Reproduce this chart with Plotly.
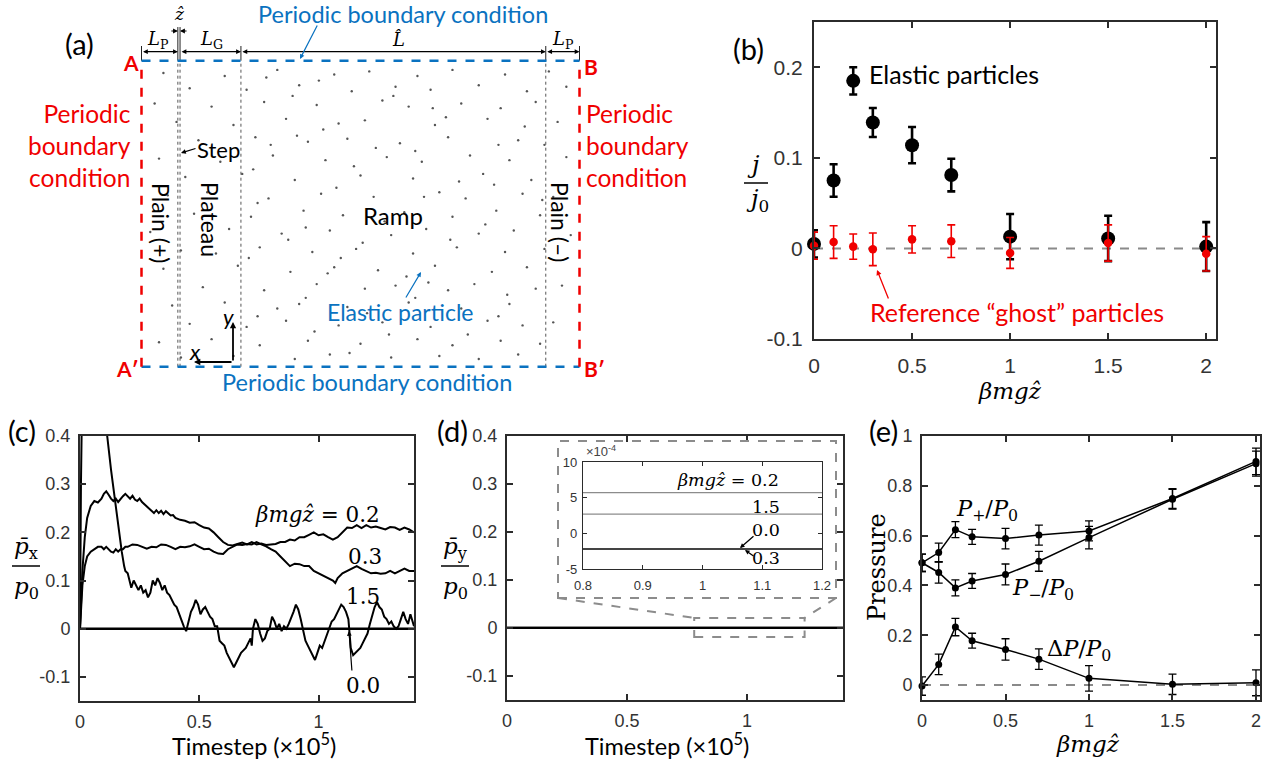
import plotly.graph_objects as go

W, H = 1275, 763

# ---------------- data ----------------
# (a) schematic: widths of the regions as fractions of the box width
seg_labels = ["L_P", "z", "L_G", "L_hat", "L_P"]
seg_widths = [0.083, 0.005, 0.139, 0.696, 0.077]
# particle positions (fractions of box width / height), read approximately
particles = [
    (0.05, 0.96), (0.19, 0.95), (0.31, 0.97), (0.44, 0.955), (0.52, 0.965), (0.63, 0.95), (0.71, 0.97), (0.83, 0.955), (0.93, 0.965),
    (0.11, 0.91), (0.24, 0.905), (0.36, 0.92), (0.48, 0.90), (0.58, 0.915), (0.66, 0.905), (0.77, 0.92), (0.88, 0.90), (0.97, 0.915),
    (0.03, 0.86), (0.16, 0.85), (0.28, 0.865), (0.40, 0.855), (0.55, 0.87), (0.61, 0.85), (0.73, 0.86), (0.82, 0.845), (0.90, 0.865),
    (0.08, 0.80), (0.21, 0.79), (0.33, 0.81), (0.45, 0.795), (0.51, 0.805), (0.67, 0.79), (0.79, 0.81), (0.95, 0.80),
    (0.13, 0.74), (0.26, 0.75), (0.38, 0.735), (0.47, 0.745), (0.59, 0.73), (0.70, 0.75), (0.86, 0.74), (0.92, 0.725),
    (0.04, 0.68), (0.18, 0.67), (0.30, 0.69), (0.42, 0.675), (0.56, 0.685), (0.64, 0.67), (0.75, 0.69), (0.84, 0.675), (0.97, 0.685),
    (0.10, 0.62), (0.23, 0.63), (0.35, 0.61), (0.50, 0.625), (0.62, 0.615), (0.78, 0.63), (0.89, 0.61),
    (0.06, 0.56), (0.15, 0.57), (0.29, 0.55), (0.41, 0.565), (0.53, 0.555), (0.68, 0.57), (0.74, 0.55), (0.87, 0.565), (0.94, 0.555),
    (0.12, 0.50), (0.25, 0.49), (0.37, 0.51), (0.46, 0.495), (0.60, 0.505), (0.71, 0.49), (0.81, 0.51), (0.91, 0.495),
    (0.02, 0.44), (0.20, 0.45), (0.32, 0.435), (0.43, 0.445), (0.57, 0.43), (0.65, 0.45), (0.77, 0.435), (0.85, 0.445), (0.98, 0.43),
    (0.09, 0.38), (0.17, 0.37), (0.27, 0.39), (0.39, 0.375), (0.49, 0.385), (0.62, 0.37), (0.72, 0.39), (0.83, 0.375), (0.92, 0.385),
    (0.05, 0.32), (0.22, 0.33), (0.34, 0.31), (0.44, 0.325), (0.54, 0.315), (0.67, 0.33), (0.80, 0.31), (0.88, 0.325),
    (0.14, 0.26), (0.28, 0.25), (0.40, 0.27), (0.51, 0.255), (0.58, 0.265), (0.70, 0.25), (0.76, 0.27), (0.90, 0.255), (0.96, 0.265),
    (0.07, 0.20), (0.19, 0.21), (0.31, 0.19), (0.36, 0.205), (0.47, 0.195), (0.61, 0.21), (0.73, 0.19), (0.84, 0.205),
    (0.11, 0.14), (0.24, 0.13), (0.33, 0.15), (0.45, 0.135), (0.55, 0.145), (0.66, 0.13), (0.79, 0.15), (0.87, 0.135), (0.94, 0.145),
    (0.04, 0.08), (0.16, 0.09), (0.27, 0.07), (0.38, 0.085), (0.50, 0.075), (0.63, 0.09), (0.71, 0.07), (0.82, 0.085), (0.91, 0.075),
    (0.09, 0.03), (0.21, 0.035), (0.35, 0.025), (0.43, 0.04), (0.57, 0.03), (0.68, 0.035), (0.77, 0.025), (0.86, 0.04),
    (0.345, 0.885), (0.415, 0.775), (0.625, 0.705), (0.805, 0.595), (0.265, 0.535), (0.555, 0.475), (0.705, 0.415),
    (0.455, 0.355), (0.605, 0.295), (0.245, 0.355), (0.835, 0.235), (0.515, 0.175), (0.395, 0.115), (0.745, 0.105),
    (0.665, 0.845), (0.875, 0.785), (0.485, 0.655), (0.295, 0.725), (0.915, 0.545), (0.375, 0.455), (0.645, 0.555),
    (0.285, 0.945), (0.405, 0.935), (0.575, 0.885), (0.695, 0.815), (0.355, 0.755), (0.535, 0.715), (0.815, 0.725),
    (0.255, 0.645), (0.445, 0.585), (0.725, 0.605), (0.335, 0.415), (0.505, 0.405), (0.785, 0.465), (0.425, 0.305),
    (0.625, 0.225), (0.265, 0.165), (0.565, 0.105), (0.815, 0.165), (0.475, 0.045), (0.655, 0.275), (0.375, 0.225),
]

# (b) particle current vs beta m g z
b_x = [0, 0.1, 0.2, 0.3, 0.5, 0.7, 1, 1.5, 2]
b_elastic = [0.005, 0.075, 0.185, 0.139, 0.114, 0.081, 0.013, 0.011, 0.002]
b_elastic_err = [0.015, 0.018, 0.015, 0.016, 0.020, 0.018, 0.025, 0.025, 0.027]
b_ghost = [0.003, 0.007, 0.002, -0.001, 0.010, 0.008, -0.005, 0.006, -0.006]
b_ghost_err = [0.015, 0.018, 0.014, 0.018, 0.015, 0.018, 0.017, 0.020, 0.019]
b_xticks = [0, 0.5, 1, 1.5, 2]
b_xticktext = ["0", "0.5", "1", "1.5", "2"]
b_yticks = [-0.1, 0, 0.1, 0.2]
b_yticktext = ["-0.1", "0", "0.1", "0.2"]

# (c) px/p0 vs timestep (x1e5)
c_t02 = [0, 0.01, 0.02, 0.03, 0.045, 0.06, 0.075, 0.09, 0.1, 0.11, 0.12, 0.13, 0.14, 0.15, 0.16, 0.17, 0.18, 0.19, 0.2,
         0.21, 0.22, 0.23, 0.24, 0.25, 0.26, 0.27, 0.28, 0.29, 0.3, 0.31, 0.32, 0.33, 0.34, 0.35, 0.36, 0.37, 0.38, 0.39, 0.4,
         0.42, 0.44, 0.46, 0.48, 0.5, 0.52, 0.54, 0.56, 0.58, 0.6, 0.62, 0.64, 0.66, 0.68, 0.7, 0.72, 0.74, 0.76, 0.78, 0.8,
         0.82, 0.84, 0.86, 0.88, 0.9, 0.92, 0.94, 0.96, 0.98, 1.0, 1.02, 1.04, 1.06, 1.08, 1.1, 1.12, 1.14, 1.16, 1.18, 1.2,
         1.22, 1.24, 1.26, 1.28, 1.3, 1.32, 1.34, 1.36, 1.38, 1.4]
c_p02 = [0, 0.12, 0.19, 0.23, 0.255, 0.265, 0.262, 0.27, 0.28, 0.285, 0.278, 0.27, 0.265, 0.27, 0.263, 0.27, 0.275, 0.28, 0.274,
         0.27, 0.276, 0.268, 0.265, 0.27, 0.263, 0.258, 0.255, 0.25, 0.245, 0.24, 0.246, 0.24, 0.245, 0.238, 0.244, 0.24, 0.235, 0.236, 0.23,
         0.226, 0.224, 0.22, 0.221, 0.215, 0.21, 0.208, 0.2, 0.19, 0.18, 0.174, 0.173, 0.176, 0.179, 0.175, 0.18, 0.175, 0.177, 0.174, 0.175,
         0.176, 0.18, 0.18, 0.185, 0.183, 0.19, 0.19, 0.195, 0.2, 0.194, 0.196, 0.19, 0.185, 0.19, 0.2, 0.21, 0.209, 0.215, 0.209, 0.215,
         0.21, 0.212, 0.209, 0.206, 0.211, 0.21, 0.205, 0.21, 0.206, 0.2]
c_t03 = [0, 0.01, 0.02, 0.03, 0.045, 0.06, 0.075, 0.09, 0.1, 0.11, 0.12, 0.13, 0.14, 0.15, 0.16, 0.17, 0.18, 0.19, 0.2,
         0.22, 0.24, 0.26, 0.28, 0.3, 0.32, 0.34, 0.36, 0.38, 0.4, 0.42, 0.44, 0.46, 0.48, 0.5, 0.52, 0.54, 0.56, 0.58, 0.6,
         0.62, 0.64, 0.66, 0.68, 0.7, 0.72, 0.74, 0.76, 0.78, 0.8, 0.82, 0.84, 0.86, 0.88, 0.9, 0.92, 0.94, 0.96, 0.98, 1.0,
         1.02, 1.04, 1.06, 1.07, 1.08, 1.1, 1.12, 1.14, 1.16, 1.18, 1.2, 1.22, 1.24, 1.26, 1.28, 1.3, 1.32, 1.34, 1.36, 1.38, 1.4]
c_p03 = [0, 0.09, 0.13, 0.15, 0.16, 0.165, 0.17, 0.17, 0.165, 0.17, 0.164, 0.16, 0.158, 0.165, 0.16, 0.165, 0.165, 0.17, 0.17,
         0.175, 0.174, 0.17, 0.166, 0.17, 0.169, 0.175, 0.174, 0.17, 0.165, 0.17, 0.169, 0.171, 0.175, 0.17, 0.165, 0.166, 0.16, 0.156, 0.155,
         0.165, 0.17, 0.175, 0.174, 0.176, 0.175, 0.18, 0.175, 0.171, 0.165, 0.16, 0.15, 0.14, 0.13, 0.135, 0.134, 0.13, 0.13, 0.12, 0.115,
         0.11, 0.105, 0.1, 0.095, 0.105, 0.115, 0.12, 0.125, 0.13, 0.124, 0.12, 0.115, 0.116, 0.114, 0.115, 0.12, 0.115, 0.12, 0.125, 0.12, 0.12]
c_t15 = [0, 0.004, 0.012, 0.06, 0.1, 0.114, 0.13, 0.146, 0.16, 0.175, 0.185, 0.19, 0.2, 0.21, 0.215, 0.225, 0.235, 0.245, 0.255,
         0.265, 0.275, 0.285, 0.295, 0.305, 0.315, 0.325, 0.335, 0.345, 0.355, 0.365, 0.375, 0.385, 0.395, 0.405, 0.415, 0.425,
         0.435, 0.445, 0.455, 0.465, 0.475, 0.485, 0.495, 0.505, 0.515, 0.525, 0.535, 0.545, 0.555, 0.565, 0.575, 0.585, 0.595,
         0.605, 0.615, 0.625, 0.635, 0.645, 0.655, 0.665, 0.675, 0.685, 0.695, 0.705, 0.715, 0.72, 0.725, 0.735, 0.745, 0.755,
         0.765, 0.775, 0.785, 0.795, 0.805, 0.815, 0.825, 0.835, 0.845, 0.855, 0.865, 0.875, 0.885, 0.895, 0.905, 0.915, 0.925,
         0.935, 0.945, 0.955, 0.965, 0.975, 0.985, 0.995, 1.005, 1.015, 1.025, 1.035, 1.045, 1.055, 1.065, 1.075, 1.085, 1.095,
         1.105, 1.115, 1.125, 1.13, 1.135, 1.145, 1.155, 1.165, 1.175, 1.185, 1.195, 1.205, 1.215, 1.225, 1.235, 1.245, 1.255,
         1.265, 1.275, 1.285, 1.295, 1.305, 1.315, 1.325, 1.335, 1.345, 1.355, 1.365, 1.375, 1.385, 1.395, 1.4]
c_p15 = [0, 0.3, 0.6, 0.8, 0.5, 0.4, 0.33, 0.27, 0.21, 0.16, 0.13, 0.12, 0.115, 0.095, 0.085, 0.1, 0.09, 0.08, 0.09,
         0.075, 0.08, 0.065, 0.075, 0.1, 0.09, 0.105, 0.095, 0.08, 0.09, 0.075, 0.07, 0.06, 0.05, 0.045, 0.03, 0.02,
         0.005, -0.005, 0.015, 0.035, 0.045, 0.06, 0.05, 0.03, 0.04, 0.045, 0.035, 0.025, 0.02, 0.005, 0.005, -0.025, -0.03,
         -0.035, -0.05, -0.06, -0.07, -0.08, -0.07, -0.06, -0.05, -0.045, -0.04, -0.03, -0.02, -0.035, 0.0, 0.02, 0.01, -0.01,
         -0.025, -0.02, -0.005, 0.0, 0.025, 0.015, 0.0, 0.01, -0.005, 0.005, 0.0, 0.01, 0.025, 0.035, 0.05, 0.04, 0.02,
         -0.005, -0.025, -0.035, -0.045, -0.055, -0.065, -0.05, -0.035, -0.04, -0.025, -0.01, 0.005, 0.015, 0.02, 0.03, 0.04, 0.05,
         0.045, 0.035, 0.02, -0.01, -0.04, -0.055, -0.05, -0.045, -0.04, -0.03, -0.02, -0.01, 0.01, 0.03, 0.045, 0.055, 0.045,
         0.04, 0.025, 0.02, 0.01, 0.015, 0.005, 0.0, 0.005, 0.02, 0.035, 0.02, 0.01, 0.03, 0.01, 0.005]
c_t00 = [0, 1.4]
c_p00 = [0, 0]
c_xticks = [0, 0.5, 1]
c_xticktext = ["0", "0.5", "1"]
c_yticks = [-0.1, 0, 0.1, 0.2, 0.3, 0.4]
c_yticktext = ["-0.1", "0", "0.1", "0.2", "0.3", "0.4"]

# (d) py/p0 vs timestep: constant levels (x1e-4 visible in inset)
d_t = [0, 1.4]
d_p02 = [5.7e-4, 5.7e-4]
d_p15 = [2.7e-4, 2.7e-4]
d_p00 = [-2.2e-4, -2.2e-4]
d_p03 = [-2.2e-4, -2.2e-4]
inset_xticks = [0.8, 0.9, 1, 1.1, 1.2]
inset_xticktext = ["0.8", "0.9", "1", "1.1", "1.2"]
inset_yticks = [-5, 0, 5, 10]
inset_yticktext = ["-5", "0", "5", "10"]

# (e) pressures
e_x = [0, 0.1, 0.2, 0.3, 0.5, 0.7, 1, 1.5, 2]
e_pplus = [0.491, 0.532, 0.624, 0.595, 0.588, 0.602, 0.619, 0.749, 0.898]
e_pplus_err = [0.035, 0.038, 0.032, 0.030, 0.041, 0.040, 0.040, 0.040, 0.053]
e_pminus = [0.491, 0.452, 0.390, 0.418, 0.444, 0.497, 0.592, 0.746, 0.889]
e_pminus_err = [0.035, 0.043, 0.032, 0.030, 0.042, 0.040, 0.045, 0.040, 0.050]
e_dp = [-0.004, 0.083, 0.233, 0.178, 0.143, 0.104, 0.027, 0.003, 0.009]
e_dp_err = [0.037, 0.041, 0.035, 0.030, 0.043, 0.041, 0.051, 0.041, 0.052]
e_xticks = [0, 0.5, 1, 1.5, 2]
e_xticktext = ["0", "0.5", "1", "1.5", "2"]
e_yticks = [0, 0.2, 0.4, 0.6, 0.8, 1]
e_yticktext = ["0", "0.2", "0.4", "0.6", "0.8", "1"]

# ---------------- style ----------------
SANS = "Lato, Calibri, 'Open Sans', sans-serif"
ARIAL = "'Liberation Sans', Arial, sans-serif"
SERIF = "'DejaVu Serif', 'Liberation Serif', serif"
RED = "#f00000"
BLUE = "#0a72c0"
AXC = "#2b2b2b"
TICKC = "#333333"


def X(p):
    return p / W


def Y(p):
    return 1 - p / H


def dom_x(a, b):
    return [X(a), X(b)]


def dom_y(top, bottom):
    return [Y(bottom), Y(top)]


def axis(domain, rng, tickvals=None, ticktext=None, size=18, standoff=6, anchor=None, visible=True, lw=2):
    d = dict(domain=domain, range=rng, showgrid=False, zeroline=False, visible=visible, fixedrange=True,
             automargin=False)
    if visible:
        d.update(showline=True, linecolor=AXC, linewidth=lw, mirror="allticks", ticks="inside",
                 ticklen=6, tickwidth=1.5, tickcolor=AXC, tickvals=tickvals, ticktext=ticktext,
                 tickfont=dict(family=ARIAL, size=size, color=TICKC), ticklabelstandoff=standoff)
    if anchor:
        d["anchor"] = anchor
    return d


fig = go.Figure()

# ---------------- panel (a) ----------------
BOX_L, BOX_R, BOX_T, BOX_B = 141.5, 579.5, 60.7, 366.7
a_xr = [(0 - BOX_L) / (BOX_R - BOX_L), (700 - BOX_L) / (BOX_R - BOX_L)]
a_yr = [(BOX_B - 400) / (BOX_B - BOX_T), (BOX_B - 0) / (BOX_B - BOX_T)]

fig.add_trace(go.Scatter(x=[p[0] for p in particles], y=[p[1] for p in particles], mode="markers",
                         marker=dict(size=2.4, color="#555555"), xaxis="x", yaxis="y", hoverinfo="skip"))


def ax_px(fx):
    return BOX_L + fx * (BOX_R - BOX_L)


shapes = []
bounds = [0]
for w in seg_widths:
    bounds.append(bounds[-1] + w)
# dotted internal boundaries
for bx in bounds[1:-1]:
    shapes.append(dict(type="line", xref="x", yref="y", x0=bx, x1=bx, y0=0, y1=1,
                       line=dict(color="#555555", width=1, dash="dot")))
# step double solid lines above box
for bx in bounds[1:3]:
    shapes.append(dict(type="line", xref="x", yref="y", x0=bx, x1=bx, y0=1, y1=1.11,
                       line=dict(color="#222222", width=1)))
# dimension end ticks
for bx in [bounds[0], bounds[3], bounds[4], bounds[5]]:
    shapes.append(dict(type="line", xref="x", yref="y", x0=bx, x1=bx, y0=1.0, y1=1.048,
                       line=dict(color="#222222", width=1)))
# periodic boundaries
shapes.append(dict(type="line", xref="x", yref="y", x0=0, x1=1, y0=1, y1=1, line=dict(color=BLUE, width=2.5, dash="dash")))
shapes.append(dict(type="line", xref="x", yref="y", x0=0, x1=1, y0=0, y1=0, line=dict(color=BLUE, width=2.5, dash="dash")))
shapes.append(dict(type="line", xref="x", yref="y", x0=0, x1=0, y0=0, y1=1, line=dict(color=RED, width=2.5, dash="dash")))
shapes.append(dict(type="line", xref="x", yref="y", x0=1, x1=1, y0=0, y1=1, line=dict(color=RED, width=2.5, dash="dash")))

ann = []


def txt(x, y, s, size=21, color="black", family=SANS, xanchor="center", yanchor="middle", angle=0, align="center"):
    ann.append(dict(x=X(x), y=Y(y), xref="paper", yref="paper", text=s, showarrow=False,
                    font=dict(family=family, size=size, color=color), xanchor=xanchor, yanchor=yanchor,
                    textangle=angle, align=align))


def arrow(x0, y0, x1, y1, color="black", width=1.2, head=2, both=False, size=1.0):
    ann.append(dict(x=X(x1), y=Y(y1), xref="paper", yref="paper", ax=x0 - x1, ay=y0 - y1,
                    axref="pixel", ayref="pixel", text="", showarrow=True, arrowhead=head, startarrowhead=head,
                    arrowsize=size, startarrowsize=size, arrowwidth=width, arrowcolor=color,
                    arrowside="end+start" if both else "end", font=dict(size=10)))


# dimension arrows
DIM_Y = 51.7
arrow(ax_px(bounds[0]), DIM_Y, ax_px(bounds[1]), DIM_Y, both=True, size=0.8)
arrow(ax_px(bounds[2]), DIM_Y, ax_px(bounds[3]), DIM_Y, both=True, size=0.8)
arrow(ax_px(bounds[3]), DIM_Y, ax_px(bounds[4]), DIM_Y, both=True, size=0.8)
arrow(ax_px(bounds[4]), DIM_Y, ax_px(bounds[5]), DIM_Y, both=True, size=0.8)
arrow(ax_px(bounds[2]) + 8, 31, ax_px(bounds[2]), 31, size=0.8)
arrow(ax_px(bounds[1]) - 8, 31, ax_px(bounds[1]), 31, size=0.8)
txt(158, 40, "<i>L</i><sub>P</sub>", size=18, family=SERIF)
txt(179, 14, "<i>ẑ</i>", size=17, family=SERIF)
txt(212, 40, "<i>L</i><sub>G</sub>", size=18, family=SERIF)
txt(398, 39, "<i>L̂</i>", size=18, family=SERIF)
txt(563, 40, "<i>L</i><sub>P</sub>", size=18, family=SERIF)

txt(403, 14, "Periodic boundary condition", color=BLUE, size=23.5)
arrow(318, 24, 300, 59, color=BLUE, width=1.2, size=0.8)
txt(367, 382, "Periodic boundary condition", color=BLUE, size=23.5)
txt(133, 146, "Periodic<br>boundary<br>condition", color=RED, xanchor="right", align="right", size=24.5)
txt(584, 146, "Periodic<br>boundary<br>condition", color=RED, xanchor="left", align="left", size=24.5)
txt(131, 62, "<b>A</b>", color=RED, size=21)
txt(591, 66, "<b>B</b>", color=RED, size=21)
txt(127, 369, "<b>A′</b>", color=RED, size=21)
txt(594, 369, "<b>B′</b>", color=RED, size=21)
txt(79, 43, "(a)", size=29)
txt(218, 149, "Step", size=22)
arrow(197, 148, 181, 153, size=0.8)
txt(161, 223, "Plain (+)", size=23, angle=90)
txt(210, 219, "Plateau", size=23, angle=90)
txt(560, 222, "Plain (–)", size=23, angle=90)
txt(393, 215, "Ramp", size=24)
txt(400, 312, "Elastic particle", color=BLUE, size=23)
arrow(405, 299, 421, 272, color=BLUE, size=0.8)
arrow(233, 362, 233, 322, width=1.8, size=0.7)
arrow(233, 362, 194, 362, width=1.8, size=0.7)
txt(228, 316, "<i>y</i>", size=22)
txt(195, 352, "<i>x</i>", size=22)

# ---------------- panel (b) ----------------
fig.add_trace(go.Scatter(x=b_x, y=b_elastic, mode="markers", xaxis="x2", yaxis="y2", cliponaxis=False,
                         marker=dict(size=14, color="black"),
                         error_y=dict(type="data", array=b_elastic_err, color="black", thickness=2.6, width=4)))
fig.add_trace(go.Scatter(x=b_x, y=b_ghost, mode="markers", xaxis="x2", yaxis="y2", cliponaxis=False,
                         marker=dict(size=8.5, color=RED),
                         error_y=dict(type="data", array=b_ghost_err, color=RED, thickness=1.6, width=4)))
shapes.append(dict(type="line", xref="x2 domain", yref="y2", x0=0, x1=1, y0=0, y1=0, layer="below",
                   line=dict(color="#8a8a8a", width=2, dash="dash")))
txt(748, 48, "(b)", size=29)
txt(867, 74, "Elastic particles", size=25, xanchor="left")
txt(868, 312, "Reference “ghost” particles", size=25, color=RED, xanchor="left")
arrow(889, 300, 877, 270, color=RED, size=0.8, width=1.3)
txt(1010, 391, "<i>βmgẑ</i>", size=23, family=SERIF)
txt(753, 165, "<i>j</i>", size=24, family=SERIF)
shapes.append(dict(type="line", xref="paper", yref="paper", x0=X(744), x1=X(768), y0=Y(183), y1=Y(183),
                   line=dict(color="black", width=1.5)))
txt(757, 200, "<i>j</i><sub>0</sub>", size=24, family=SERIF)

# ---------------- panel (c) ----------------
for tt, pp in [(c_t02, c_p02), (c_t03, c_p03), (c_t15, c_p15)]:
    fig.add_trace(go.Scatter(x=tt, y=pp, mode="lines", xaxis="x3", yaxis="y3",
                             line=dict(color="black", width=2)))
fig.add_trace(go.Scatter(x=c_t00, y=c_p00, mode="lines", xaxis="x3", yaxis="y3",
                         line=dict(color="black", width=2.5)))
txt(22, 430, "(c)", size=29)
txt(317, 514, "<i>βmgẑ</i> = 0.2", size=21.5, family=SERIF)
txt(365, 556, "0.3", size=21.5, family=SERIF)
txt(363, 596, "1.5", size=21.5, family=SERIF)
txt(363, 685, "0.0", size=21.5, family=SERIF)
arrow(352, 672, 349, 631, size=0.8)
txt(26, 548, "<i>p̄</i><sub>x</sub>", size=23, family=SERIF)
shapes.append(dict(type="line", xref="paper", yref="paper", x0=X(12), x1=X(40), y0=Y(566), y1=Y(566),
                   line=dict(color="black", width=1.5)))
txt(26, 588, "<i>p</i><sub>0</sub>", size=23, family=SERIF)
txt(254, 744, "Timestep (×10<sup>5</sup>)", size=23.5)

# ---------------- panel (d) ----------------
for lv in [d_p02, d_p15, d_p00, d_p03]:
    fig.add_trace(go.Scatter(x=d_t, y=lv, mode="lines", xaxis="x4", yaxis="y4", line=dict(color="black", width=2)))
# inset
fig.add_trace(go.Scatter(x=d_t, y=[v * 1e4 for v in d_p02], mode="lines", xaxis="x5", yaxis="y5",
                         line=dict(color="#8c8c8c", width=1.3)))
fig.add_trace(go.Scatter(x=d_t, y=[v * 1e4 for v in d_p15], mode="lines", xaxis="x5", yaxis="y5",
                         line=dict(color="#8c8c8c", width=1.3)))
fig.add_trace(go.Scatter(x=d_t, y=[v * 1e4 for v in d_p00], mode="lines", xaxis="x5", yaxis="y5",
                         line=dict(color="#444444", width=2)))
fig.add_trace(go.Scatter(x=d_t, y=[v * 1e4 for v in d_p03], mode="lines", xaxis="x5", yaxis="y5",
                         line=dict(color="#444444", width=2)))

D_L, D_R, D_T, D_B = 507, 843, 436, 700


def d_px(t, v):
    return D_L + t / 1.4 * (D_R - D_L), D_T + (0.4 - v) / 0.55 * (D_B - D_T)


GRAY = "#8c8c8c"
shapes.append(dict(type="rect", xref="paper", yref="paper", x0=X(558), x1=X(836), y0=Y(598), y1=Y(441),
                   line=dict(color=GRAY, width=2, dash="dash")))
shapes.append(dict(type="rect", xref="x4", yref="y4", x0=0.78, x1=1.24, y0=-0.019, y1=0.021,
                   line=dict(color=GRAY, width=2, dash="dash")))
sx0, sy0 = d_px(0.78, 0.021)
sx1, sy1 = d_px(1.24, 0.021)
shapes.append(dict(type="line", xref="paper", yref="paper", x0=X(558), y0=Y(598), x1=X(sx0), y1=Y(sy0),
                   line=dict(color=GRAY, width=2, dash="dash")))
shapes.append(dict(type="line", xref="paper", yref="paper", x0=X(836), y0=Y(598), x1=X(sx1), y1=Y(sy1),
                   line=dict(color=GRAY, width=2, dash="dash")))
txt(452, 430, "(d)", size=29)
txt(455, 548, "<i>p̄</i><sub>y</sub>", size=23, family=SERIF)
shapes.append(dict(type="line", xref="paper", yref="paper", x0=X(441), x1=X(469), y0=Y(566), y1=Y(566),
                   line=dict(color="black", width=1.5)))
txt(455, 588, "<i>p</i><sub>0</sub>", size=23, family=SERIF)
txt(667, 744, "Timestep (×10<sup>5</sup>)", size=23.5)
txt(584, 451, "×10<sup>-4</sup>", size=13, family=ARIAL, color="#444444", xanchor="left")
txt(728, 480, "<i>βmgẑ</i> = 0.2", size=17.5, family=SERIF)
txt(766, 507, "1.5", size=17.5, family=SERIF)
txt(766, 530, "0.0", size=17.5, family=SERIF)
txt(766, 558, "0.3", size=17.5, family=SERIF)
arrow(755, 535, 740, 548, size=0.7, width=1.3)
arrow(755, 557, 745, 550, size=0.7, width=1.3)

# ---------------- panel (e) ----------------
for yy, ee in [(e_pplus, e_pplus_err), (e_pminus, e_pminus_err), (e_dp, e_dp_err)]:
    fig.add_trace(go.Scatter(x=e_x, y=yy, mode="lines+markers", xaxis="x6", yaxis="y6", cliponaxis=False,
                             line=dict(color="black", width=1.5), marker=dict(size=7, color="black"),
                             error_y=dict(type="data", array=ee, color="black", thickness=1.3, width=4)))
shapes.append(dict(type="line", xref="x6 domain", yref="y6", x0=0, x1=1, y0=0, y1=0, layer="below",
                   line=dict(color="#8a8a8a", width=2, dash="dash")))
txt(883, 430, "(e)", size=29)
txt(877, 567, "Pressure", size=24, family=SERIF, angle=-90)
txt(1088, 744, "<i>βmgẑ</i>", size=23, family=SERIF)
txt(987, 510, "<i>P</i><sub>+</sub>/<i>P</i><sub>0</sub>", size=22.5, family=SERIF)
txt(1043, 589, "<i>P</i><sub>−</sub>/<i>P</i><sub>0</sub>", size=22.5, family=SERIF)
txt(1079, 650, "Δ<i>P</i>/<i>P</i><sub>0</sub>", size=22.5, family=SERIF)

fig.update_layout(
    template="none",
    width=W, height=H, margin=dict(l=0, r=0, t=0, b=0, pad=0, autoexpand=False), showlegend=False,
    paper_bgcolor="white", plot_bgcolor="white",
    xaxis=dict(domain=[0, X(700)], range=a_xr, visible=False, fixedrange=True, automargin=False),
    yaxis=dict(domain=[Y(400), 1], range=a_yr, visible=False, fixedrange=True, automargin=False),
    xaxis2=axis(dom_x(814, 1216), [0, 2.05], b_xticks, b_xticktext, size=21, standoff=7, anchor="y2"),
    yaxis2=axis(dom_y(22, 339), [-0.1, 0.25], b_yticks, b_yticktext, size=21, standoff=5, anchor="x2"),
    xaxis3=axis(dom_x(80, 414), [0, 1.4], c_xticks, c_xticktext, size=18, standoff=3, anchor="y3"),
    yaxis3=axis(dom_y(436, 701), [-0.15, 0.4], c_yticks, c_yticktext, size=18, standoff=4, anchor="x3"),
    xaxis4=axis(dom_x(507, 843), [0, 1.4], c_xticks, c_xticktext, size=18, standoff=3, anchor="y4"),
    yaxis4=axis(dom_y(436, 700), [-0.15, 0.4], c_yticks, c_yticktext, size=18, standoff=4, anchor="x4"),
    xaxis5=axis(dom_x(583, 822), [0.8, 1.2], inset_xticks, inset_xticktext, size=13, standoff=4, anchor="y5", lw=1.2),
    yaxis5=axis(dom_y(462, 569), [-5, 10], inset_yticks, inset_yticktext, size=13, standoff=2, anchor="x5", lw=1.2),
    xaxis6=axis(dom_x(922, 1260), [0, 2.024], e_xticks, e_xticktext, size=18, standoff=3, anchor="y6"),
    yaxis6=axis(dom_y(436, 700), [-0.06, 1.0], e_yticks, e_yticktext, size=18, standoff=4, anchor="x6"),
    shapes=shapes, annotations=ann,
)
fig.update_layout(xaxis5=dict(ticklen=4, tickwidth=1), yaxis5=dict(ticklen=4, tickwidth=1))

fig.write_html("out.html", config={"displayModeBar": False},
               post_script="document.body.style.margin='0px';document.body.style.overflow='hidden';")
